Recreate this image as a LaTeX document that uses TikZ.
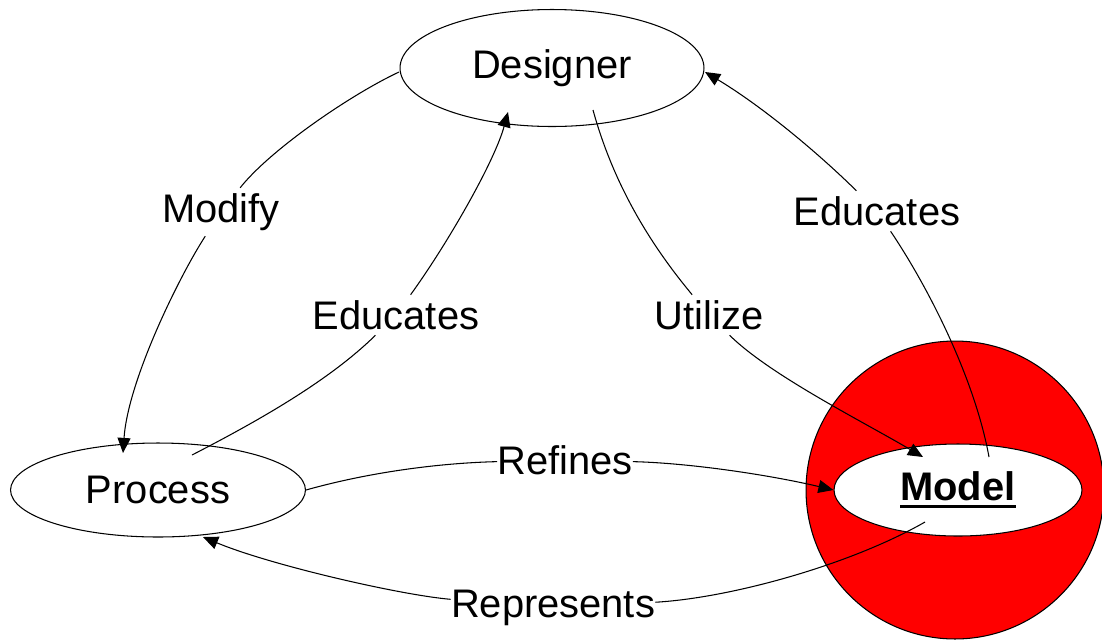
\documentclass[tikz,border=0pt]{standalone}
\usepackage{fontspec}
\setmainfont{Liberation Sans}
\usetikzlibrary{arrows.meta,shapes.geometric}
\newsavebox\ulbox
\newcommand\thickul[1]{\sbox\ulbox{#1}\rlap{\rule[-0.18em]{\wd\ulbox}{0.075em}}\usebox\ulbox}
\begin{document}
\begin{tikzpicture}[x=0.02cm,y=-0.02cm,
  every node/.style={font=\fontsize{22.7}{27}\selectfont},
  ell/.style={ellipse, draw=black, line width=0.6pt, fill=white, inner sep=0pt},
  lbl/.style={fill=white, inner sep=3pt},
  lblh/.style={fill=white, inner xsep=0pt, inner ysep=3pt},
  conn/.style={draw=black, line width=0.6pt},
  arr/.style={conn, -{Triangle[length=8.6pt,width=7.4pt]}}]
\useasboundingbox (0,0) rectangle (1102,640);
% nodes
\node[ell, minimum width=6.08cm, minimum height=2.34cm] (designer) at (552,68) {Designer};
\node[ell, minimum width=5.9cm, minimum height=1.88cm] (process) at (158,490) {Process};
\node[circle, draw=black, line width=0.6pt, fill=red, minimum size=5.96cm, inner sep=0pt] (ball) at (955,490) {};
\node[ell, minimum width=4.96cm, minimum height=1.84cm] (model) at (958,490) {\textbf{\thickul{Model}}};
% labels
\node[lbl] (lmodify) at (221,212) {Modify};
\node[lbl] (leduc1) at (396,315) {Educates};
\node[lbl] (lutil) at (709,315) {Utilize};
\node[lbl] (leduc2) at (877,211) {Educates};
\node[lblh] (lrefines) at (565,460) {Refines};
\node[lblh] (lrepr) at (553,608) {Represents};
% connectors
\draw[conn] ([shift={(-153,4)}]designer.center) .. controls (350,95) and (270,150) .. (lmodify);
\draw[arr] (lmodify) .. controls (180,275) and (128,380) .. ([shift={(-35,-37)}]process.center);

\draw[conn] ([shift={(34,-35)}]process.center) .. controls (260,420) and (330,380) .. (leduc1);
\draw[arr] (leduc1) .. controls (450,240) and (495,160) .. ([shift={(-44,44)}]designer.center);

\draw[conn] ([shift={(41,42)}]designer.center) .. controls (615,190) and (655,250) .. (lutil);
\draw[arr] (lutil) .. controls (770,375) and (860,420) .. ([shift={(-35,-33)}]model.center);

\draw[conn] ([shift={(31,-33)}]model.center) .. controls (975,380) and (930,290) .. (leduc2);
\draw[arr] (leduc2) .. controls (815,150) and (760,105) .. ([shift={(153,4)}]designer.center);

\draw[conn] (process.east) .. controls (370,472) and (440,463) .. (lrefines);
\draw[arr] (lrefines) .. controls (690,463) and (770,475) .. (model.west);

\draw[conn] ([shift={(-33,32)}]model.center) .. controls (850,565) and (730,598) .. (lrepr);
\draw[arr] (lrepr) .. controls (400,595) and (270,565) .. ([shift={(45,47)}]process.center);
\end{tikzpicture}
\end{document}
